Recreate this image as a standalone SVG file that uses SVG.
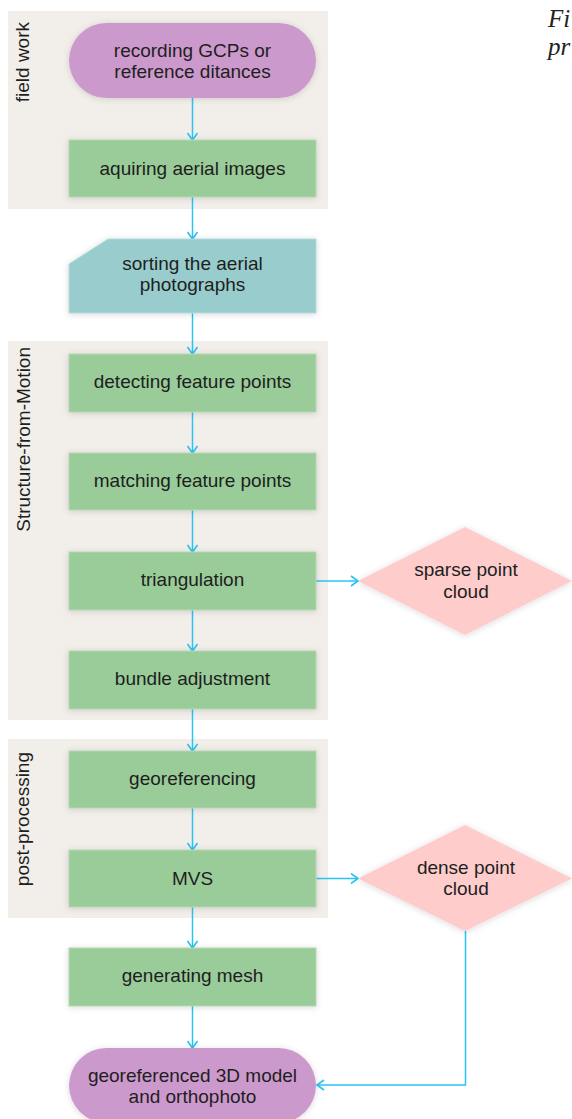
<svg xmlns="http://www.w3.org/2000/svg" width="572" height="1119" viewBox="0 0 572 1119">
  <defs>
    <style>
      .lane { fill: #f2eeea; }
      .lane-label { font-family: "Liberation Sans", Arial, sans-serif; font-size: 19px; fill: #1e1e1e; text-anchor: end; }
      .label { font-family: "Liberation Sans", Arial, sans-serif; font-size: 19px; fill: #1e1e1e; text-anchor: middle; }
      .process { fill: #99cc99; stroke: #b3d8b2; stroke-width: 1; filter: url(#shadow); }
      .terminal { fill: #cc99cc; filter: url(#shadow); }
      .sort { fill: #99cccc; stroke: #b3dbdb; stroke-width: 1; filter: url(#shadow); }
      .data { fill: #ffcccc; filter: url(#shadow); }
      .conn { fill: none; stroke: #29c4f2; stroke-width: 1.5; marker-end: url(#arrow); }
      .caption { font-family: "Liberation Serif", "Times New Roman", serif; font-style: italic; font-size: 25px; fill: #222222; }
    </style>
    <filter id="shadow" x="-20%" y="-30%" width="140%" height="160%">
      <feDropShadow dx="0" dy="1" stdDeviation="3" flood-color="#000000" flood-opacity="0.15"/>
    </filter>
    <marker id="arrow" viewBox="-10 -6 12 12" refX="0" refY="0" markerWidth="12" markerHeight="12" markerUnits="userSpaceOnUse" orient="auto">
      <path d="M-7,-5 L0,0 L-7,5" fill="none" stroke="#29c4f2" stroke-width="1.6"/>
    </marker>
  </defs>

  <!-- swimlanes -->
  <g id="lane-field-work">
    <rect class="lane" x="8" y="11" width="320" height="198"/>
    <text class="lane-label" x="29" y="22" transform="rotate(-90 29 22)">field work</text>
  </g>
  <g id="lane-sfm">
    <rect class="lane" x="8" y="341" width="320" height="379"/>
    <text class="lane-label" x="30" y="347" transform="rotate(-90 30 347)">Structure-from-Motion</text>
  </g>
  <g id="lane-post">
    <rect class="lane" x="8" y="739" width="320" height="179"/>
    <text class="lane-label" x="29" y="752" transform="rotate(-90 29 752)">post-processing</text>
  </g>

  <!-- caption fragment -->
  <g id="caption">
    <text class="caption" x="548" y="27">Fi</text>
    <text class="caption" x="548" y="55">pr</text>
  </g>

  <!-- connectors -->
  <g id="connectors">
    <line class="conn" x1="192.5" y1="98" x2="192.5" y2="140"/>
    <line class="conn" x1="192.5" y1="197" x2="192.5" y2="239"/>
    <line class="conn" x1="192.5" y1="313" x2="192.5" y2="354"/>
    <line class="conn" x1="192.5" y1="412" x2="192.5" y2="453"/>
    <line class="conn" x1="192.5" y1="510" x2="192.5" y2="552"/>
    <line class="conn" x1="192.5" y1="610" x2="192.5" y2="651"/>
    <line class="conn" x1="192.5" y1="709" x2="192.5" y2="751"/>
    <line class="conn" x1="192.5" y1="808" x2="192.5" y2="850"/>
    <line class="conn" x1="192.5" y1="907" x2="192.5" y2="948"/>
    <line class="conn" x1="192.5" y1="1006" x2="192.5" y2="1048"/>
    <line class="conn" x1="316" y1="581" x2="358" y2="581"/>
    <line class="conn" x1="316" y1="878.5" x2="358" y2="878.5"/>
    <polyline class="conn" points="465.5,931 465.5,1085 317,1085"/>
  </g>

  <!-- nodes -->
  <g id="node-recording">
    <rect class="terminal" x="69" y="23" width="247" height="75" rx="37.5" ry="37.5"/>
    <text class="label" x="192.5" y="57">recording GCPs or</text>
    <text class="label" x="192.5" y="78">reference ditances</text>
  </g>
  <g id="node-aquiring">
    <rect class="process" x="69" y="140" width="247" height="57"/>
    <text class="label" x="192.5" y="174.5">aquiring aerial images</text>
  </g>
  <g id="node-sorting">
    <polygon class="sort" points="108,239 316,239 316,313 69,313 69,264"/>
    <text class="label" x="192.5" y="270">sorting the aerial</text>
    <text class="label" x="192.5" y="291">photographs</text>
  </g>
  <g id="node-detecting">
    <rect class="process" x="69" y="354" width="247" height="58"/>
    <text class="label" x="192.5" y="388">detecting feature points</text>
  </g>
  <g id="node-matching">
    <rect class="process" x="69" y="453" width="247" height="57"/>
    <text class="label" x="192.5" y="487">matching feature points</text>
  </g>
  <g id="node-triangulation">
    <rect class="process" x="69" y="552" width="247" height="58"/>
    <text class="label" x="192.5" y="586">triangulation</text>
  </g>
  <g id="node-sparse">
    <polygon class="data" points="465,527 572,581 465,635 358,581"/>
    <text class="label" x="466" y="576">sparse point</text>
    <text class="label" x="466" y="598">cloud</text>
  </g>
  <g id="node-bundle">
    <rect class="process" x="69" y="651" width="247" height="58"/>
    <text class="label" x="192.5" y="685">bundle adjustment</text>
  </g>
  <g id="node-georeferencing">
    <rect class="process" x="69" y="751" width="247" height="57"/>
    <text class="label" x="192.5" y="784.5">georeferencing</text>
  </g>
  <g id="node-mvs">
    <rect class="process" x="69" y="850" width="247" height="57"/>
    <text class="label" x="192.5" y="885">MVS</text>
  </g>
  <g id="node-dense">
    <polygon class="data" points="465,825 572,878.5 465,931 358,878.5"/>
    <text class="label" x="466" y="874">dense point</text>
    <text class="label" x="466" y="895">cloud</text>
  </g>
  <g id="node-mesh">
    <rect class="process" x="69" y="948" width="247" height="58"/>
    <text class="label" x="192.5" y="982">generating mesh</text>
  </g>
  <g id="node-model">
    <rect class="terminal" x="69" y="1048" width="247" height="75" rx="37.5" ry="37.5"/>
    <text class="label" x="192.5" y="1082">georeferenced 3D model</text>
    <text class="label" x="192.5" y="1103">and orthophoto</text>
  </g>
</svg>
